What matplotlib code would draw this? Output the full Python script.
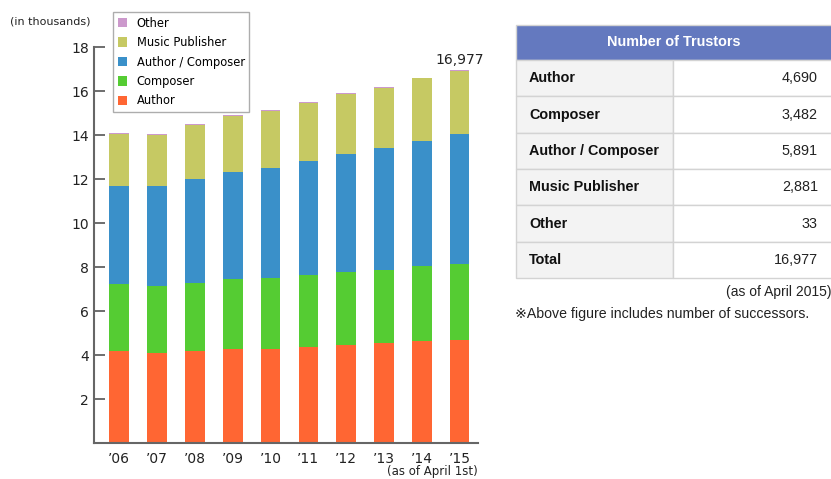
import matplotlib
matplotlib.use("Agg")
import matplotlib.pyplot as plt
from matplotlib.patches import Rectangle, Patch
import numpy as np

# ---- data (thousands) ----
years = ["’06", "’07", "’08", "’09", "’10", "’11", "’12", "’13", "’14", "’15"]
author = [4.18, 4.10, 4.18, 4.27, 4.30, 4.37, 4.47, 4.54, 4.63, 4.690]
composer = [3.05, 3.05, 3.12, 3.18, 3.23, 3.28, 3.30, 3.34, 3.43, 3.482]
author_composer = [4.48, 4.53, 4.71, 4.87, 5.00, 5.20, 5.39, 5.53, 5.69, 5.891]
music_publisher = [2.35, 2.35, 2.46, 2.56, 2.57, 2.64, 2.73, 2.745, 2.835, 2.881]
other = [0.04, 0.04, 0.04, 0.04, 0.04, 0.04, 0.04, 0.035, 0.035, 0.033]
series_names = ["Author", "Composer", "Author / Composer", "Music Publisher", "Other"]
series_colors = ["#ff6633", "#55cc33", "#3a90c9", "#c6c963", "#cc99cc"]
total_label = "16,977"

table_title = "Number of Trustors"
table_rows = ["Author", "Composer", "Author / Composer", "Music Publisher", "Other", "Total"]
table_values = ["4,690", "3,482", "5,891", "2,881", "33", "16,977"]

W, H = 831, 479
fig = plt.figure(figsize=(W / 100, H / 100), dpi=100)
fig.patch.set_facecolor("white")

narrow = ["DejaVu Sans Condensed", "DejaVu Sans"]
small = ["DejaVu Sans"]
arial = ["Liberation Sans", "DejaVu Sans"]

ax = fig.add_axes([94.3 / W, 1 - 443.3 / H, (478 - 94.3) / W, (443.3 - 47.3) / H])
x = np.arange(len(years))
series = [author, composer, author_composer, music_publisher, other]
bottom = np.zeros(len(years))
for vals, name, col in zip(series, series_names, series_colors):
    ax.bar(x, vals, bottom=bottom, width=0.52, color=col, label=name, linewidth=0)
    bottom = bottom + np.array(vals)

ax.set_ylim(0, 18)
ax.set_xlim(-0.658, 9.485)
yt = [2, 4, 6, 8, 10, 12, 14, 16, 18]
ax.set_yticks(yt)
ax.set_yticklabels([str(v) for v in yt], fontfamily=narrow, fontsize=10, color="#222222")
ax.tick_params(axis="y", direction="in", length=8, width=1.2, color="#555555", pad=4)
ax.set_xticks(x)
ax.set_xticklabels(years, fontfamily=narrow, fontsize=10, color="#222222")
ax.tick_params(axis="x", length=0, pad=6)
for s in ["top", "right"]:
    ax.spines[s].set_visible(False)
for s in ["left", "bottom"]:
    ax.spines[s].set_color("#666666")
    ax.spines[s].set_linewidth(1.5)

ax.text(x[-1], bottom[-1] + 0.12, total_label, ha="center", va="bottom",
        fontfamily=narrow, fontsize=10, color="#222222")

fig.text(10 / W, 1 - 22 / H, "(in thousands)", ha="left", va="center",
         fontfamily=small, fontsize=8, color="#222222")
fig.text(478 / W, 1 - 472 / H, "(as of April 1st)", ha="right", va="center",
         fontfamily=small, fontsize=8.5, color="#222222")

handles = [Patch(facecolor=c, edgecolor="none") for c in series_colors][::-1]
labels = series_names[::-1]
leg = fig.legend(handles, labels, loc="upper left",
                 bbox_to_anchor=(113 / W, 1 - 12 / H), frameon=True, fancybox=False,
                 prop={"family": small, "size": 8.3}, handlelength=0.85, handleheight=0.85,
                 handletextpad=0.8, labelspacing=0.56, borderpad=0.4, borderaxespad=0)
leg.get_frame().set_edgecolor("#999999")
leg.get_frame().set_linewidth(1.0)

# ---- table ----
tx = fig.add_axes([0, 0, 1, 1])
tx.set_xlim(0, W)
tx.set_ylim(H, 0)
tx.axis("off")
tx.patch.set_alpha(0)
left, mid, right = 516, 673, 832
top, head_bot = 24.5, 60
row_h = (278 - 60) / 6
border = "#d3d3d3"
tx.add_patch(Rectangle((left, top), right - left, head_bot - top,
                       facecolor="#6479bf", edgecolor=border, linewidth=1))
tx.text((left + right) / 2, (top + head_bot) / 2, table_title, ha="center", va="center",
        color="white", fontweight="bold", fontsize=10.4, fontfamily=arial)
for i, (lab, val) in enumerate(zip(table_rows, table_values)):
    y0 = head_bot + i * row_h
    tx.add_patch(Rectangle((left, y0), mid - left, row_h, facecolor="#f3f3f3",
                           edgecolor=border, linewidth=1))
    tx.add_patch(Rectangle((mid, y0), right - mid, row_h, facecolor="white",
                           edgecolor=border, linewidth=1))
    tx.text(left + 13, y0 + row_h / 2, lab, ha="left", va="center", fontweight="bold",
            fontsize=10.4, color="#111111", fontfamily=arial)
    tx.text(right - 14, y0 + row_h / 2, val, ha="right", va="center",
            fontsize=10.4, color="#222222", fontfamily=arial)
tx.text(831, 292, "(as of April 2015)", ha="right", va="center", fontsize=10,
        color="#222222", fontfamily=arial)
tx.text(515, 314, "※Above figure includes number of successors.", ha="left", va="center",
        fontsize=10.2, color="#222222",
        fontfamily=["Liberation Sans", "DejaVu Sans", "Noto Sans CJK JP"])

fig.savefig("out.png", dpi=100, facecolor="white")
